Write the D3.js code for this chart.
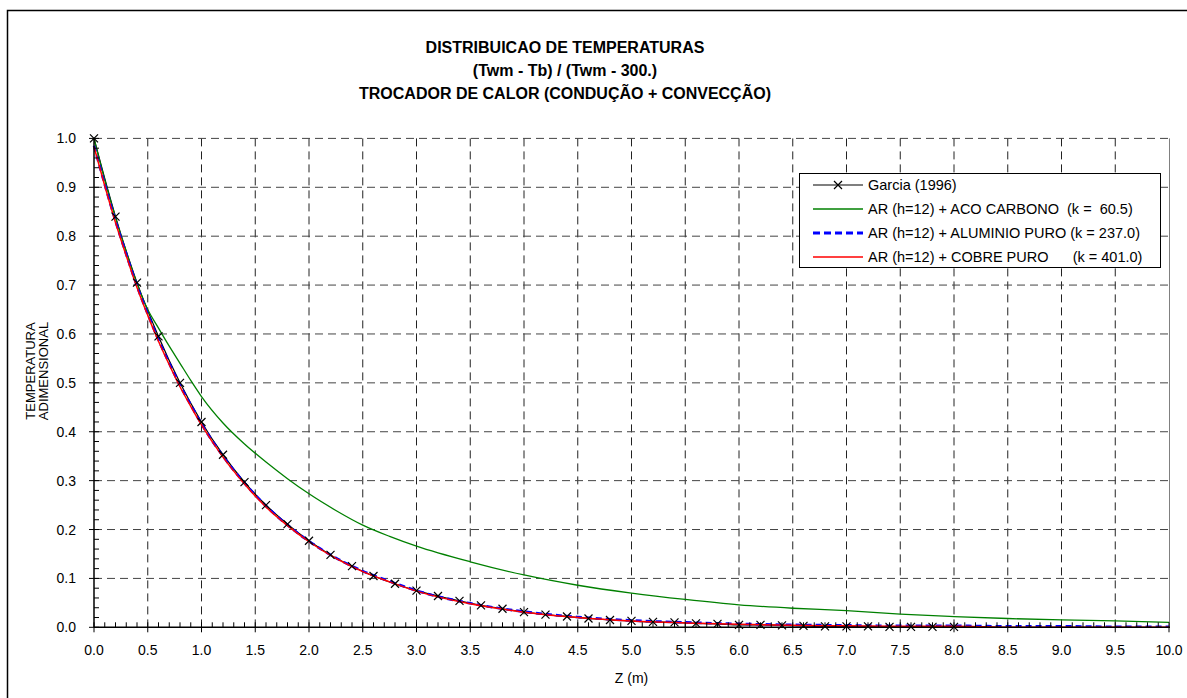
<!DOCTYPE html>
<html>
<head>
<meta charset="utf-8">
<script src="https://cdn.jsdelivr.net/npm/d3@7"></script>
<style>
  body { margin: 0; background: #fff; }
  text { font-family: "Liberation Sans", Arial, sans-serif; fill: #000; white-space: pre; }
</style>
</head>
<body>
<script>
// Garcia (1996) reference points (markers)
var garciaZ = [0.0,0.2,0.4,0.6,0.8,1.0,1.2,1.4,1.6,1.8,2.0,2.2,2.4,2.6,2.8,3.0,3.2,3.4,3.6,3.8,4.0,
               4.2,4.4,4.6,4.8,5.0,5.2,5.4,5.6,5.8,6.0,6.2,6.4,6.6,6.8,7.0,7.2,7.4,7.6,7.8,8.0];
var garciaT = [1.000,0.840,0.705,0.595,0.500,0.420,0.353,0.297,0.250,0.211,0.177,0.148,0.125,0.105,0.089,0.075,0.064,0.054,0.045,0.038,0.031,
               0.026,0.022,0.018,0.015,0.013,0.011,0.010,0.008,0.007,0.005,0.005,0.004,0.003,0.002,0.002,0.002,0.001,0.001,0.001,0.001];

// AR + ACO CARBONO (k = 60.5)
var acoZ = [0.0,0.1,0.2,0.3,0.4,0.5,0.6,0.7,0.8,0.9,1.0,1.2,1.4,1.6,1.8,2.0,2.25,2.5,2.75,3.0,3.5,4.0,4.5,5.0,5.5,6.0,6.5,7.0,7.5,8.0,8.5,9.0,9.5,10.0];
var acoT = [1.000,0.915,0.838,0.768,0.703,0.650,0.612,0.575,0.540,0.505,0.472,0.418,0.375,0.338,0.304,0.273,0.239,0.209,0.186,0.166,0.134,0.107,0.086,0.070,0.057,0.046,0.039,0.034,0.027,0.022,0.018,0.015,0.013,0.010];

// AR + ALUMINIO PURO (k = 237.0)
var aluZ = [0.0,0.1,0.2,0.3,0.4,0.5,0.6,0.7,0.8,0.9,1.0,1.2,1.4,1.6,1.8,2.0,2.25,2.5,2.75,3.0,3.5,4.0,4.5,5.0,5.5,6.0,6.5,7.0,7.5,8.0,8.5,9.0,9.5,10.0];
var aluT = [0.985,0.906,0.831,0.763,0.698,0.641,0.588,0.540,0.495,0.455,0.416,0.350,0.295,0.248,0.209,0.176,0.142,0.115,0.094,0.075,0.049,0.032,0.021,0.014,0.010,0.007,0.005,0.004,0.003,0.003,0.002,0.002,0.001,0.001];

// AR + COBRE PURO (k = 401.0)
var cobreZ = [0.0,0.1,0.2,0.3,0.4,0.5,0.6,0.7,0.8,0.9,1.0,1.2,1.4,1.6,1.8,2.0,2.25,2.5,2.75,3.0,3.5,4.0,4.5,5.0,5.5,6.0,6.5,7.0,7.5,8.0,8.3,8.5,9.0,9.5,10.0];
var cobreT = [0.983,0.903,0.828,0.760,0.695,0.638,0.585,0.537,0.492,0.452,0.414,0.348,0.293,0.246,0.208,0.175,0.141,0.114,0.093,0.074,0.048,0.031,0.020,0.013,0.009,0.006,0.004,0.003,0.002,0.002,0.001,0.000,0.000,0.000,0.000];

var xTicks = [0,0.5,1,1.5,2,2.5,3,3.5,4,4.5,5,5.5,6,6.5,7,7.5,8,8.5,9,9.5,10];
var yTicks = [0,0.1,0.2,0.3,0.4,0.5,0.6,0.7,0.8,0.9,1.0];

var titleLines = ["DISTRIBUICAO DE TEMPERATURAS", "(Twm - Tb) / (Twm - 300.)", "TROCADOR DE CALOR (CONDUÇÃO + CONVECÇÃO)"];
var legendLabels = ["Garcia (1996)", "AR (h=12) + ACO CARBONO  (k =  60.5)", "AR (h=12) + ALUMINIO PURO (k = 237.0)", "AR (h=12) + COBRE PURO      (k = 401.0)"];

var w = 1187, h = 698;
var svg = d3.select('body').append('svg').attr("width", w).attr("height", h);

// outer chart frame (right/bottom edges fall outside the picture)
svg.append("rect").attr("x", 7.5).attr("y", 10.5).attr("width", 1200).attr("height", 720)
	.attr("fill", "none").attr("stroke", "#000").attr("stroke-width", 1.5);

var x = d3.scaleLinear().domain([0, 10]).range([94, 1169]);
var y = d3.scaleLinear().domain([0, 1]).range([627.3, 138.4]);

// title
svg.append("g").selectAll("text").data(titleLines).enter().append("text")
	.attr("x", 565).attr("y", function(d, i) { return 53 + i * 23; })
	.attr("text-anchor", "middle").style("font-size", "16px").style("font-weight", "bold")
	.text(function(d) { return d; });

// grid
var grid = svg.append("g");
grid.selectAll("line.v").data(xTicks.filter(function(d) { return d > 0 && d < 10; })).enter().append("line")
	.attr("x1", function(d) { return x(d); }).attr("x2", function(d) { return x(d); })
	.attr("y1", y(1)).attr("y2", y(0))
	.attr("stroke", "#222").attr("stroke-width", 1).attr("stroke-dasharray", "8,5");
grid.selectAll("line.h").data(yTicks.filter(function(d) { return d > 0; })).enter().append("line")
	.attr("x1", x(0)).attr("x2", x(10))
	.attr("y1", function(d) { return y(d); }).attr("y2", function(d) { return y(d); })
	.attr("stroke", "#444").attr("stroke-width", 1).attr("stroke-dasharray", "8,5");

// right border of plot area
svg.append("line").attr("x1", x(10) + 0.5).attr("x2", x(10) + 0.5).attr("y1", y(1)).attr("y2", y(0))
	.attr("stroke", "#808080").attr("stroke-width", 1);

// series
var line = d3.line()
	.x(function(d) { return x(d[0]); })
	.y(function(d) { return y(d[1]); })
	.curve(d3.curveMonotoneX);

function pairs(zs, ts) { return zs.map(function(z, i) { return [z, ts[i]]; }); }

var plot = svg.append("g");
plot.append("path").attr("d", line(pairs(garciaZ, garciaT)))
	.attr("fill", "none").attr("stroke", "#000").attr("stroke-width", 1.2);
plot.append("path").attr("d", line(pairs(acoZ, acoT)))
	.attr("fill", "none").attr("stroke", "#008000").attr("stroke-width", 1.3);
plot.append("path").attr("d", line(pairs(aluZ, aluT)))
	.attr("fill", "none").attr("stroke", "#0000ff").attr("stroke-width", 2.6).attr("stroke-dasharray", "6,4");
plot.append("path").attr("d", line(pairs(cobreZ, cobreT)))
	.attr("fill", "none").attr("stroke", "#ff0000").attr("stroke-width", 1.5);

function cross(g, cx, cy, r) {
	g.append("path").attr("d", "M" + (cx - r) + "," + (cy - r) + "L" + (cx + r) + "," + (cy + r) +
		"M" + (cx - r) + "," + (cy + r) + "L" + (cx + r) + "," + (cy - r))
		.attr("stroke", "#000").attr("stroke-width", 1.2).attr("fill", "none");
}
pairs(garciaZ, garciaT).forEach(function(p) { cross(plot, x(p[0]), y(p[1]), 4); });

// axes
var xAxis = svg.append("g");
xAxis.append("line").attr("x1", x(0)).attr("x2", x(10) + 1).attr("y1", y(0)).attr("y2", y(0))
	.attr("stroke", "#000").attr("stroke-width", 1.5);
d3.range(0, 101).forEach(function(i) {
	var v = i / 10;
	var major = (i % 5 === 0);
	xAxis.append("line").attr("x1", x(v)).attr("x2", x(v))
		.attr("y1", y(0) - 5).attr("y2", y(0) + (major ? 5 : 0))
		.attr("stroke", "#000").attr("stroke-width", 1);
});
xAxis.selectAll("text").data(xTicks).enter().append("text")
	.attr("x", function(d) { return x(d); }).attr("y", 655)
	.attr("text-anchor", "middle").style("font-size", "14px")
	.text(function(d) { return d3.format(".1f")(d); });
svg.append("text").attr("x", (x(0) + x(10)) / 2).attr("y", 683).attr("text-anchor", "middle")
	.style("font-size", "14px").text("Z (m)");

var yAxis = svg.append("g");
yAxis.append("line").attr("x1", x(0)).attr("x2", x(0)).attr("y1", y(1)).attr("y2", y(0))
	.attr("stroke", "#000").attr("stroke-width", 1.5);
d3.range(0, 51).forEach(function(i) {
	var v = i / 50;
	var major = (i % 5 === 0);
	yAxis.append("line").attr("x1", x(0) - (major ? 5 : 0)).attr("x2", x(0) + 5)
		.attr("y1", y(v)).attr("y2", y(v))
		.attr("stroke", "#000").attr("stroke-width", 1);
});
yAxis.selectAll("text").data(yTicks).enter().append("text")
	.attr("x", 76).attr("y", function(d) { return y(d) + 5; })
	.attr("text-anchor", "end").style("font-size", "14px")
	.text(function(d) { return d3.format(".1f")(d); });

var yTitle = svg.append("g").attr("transform", "translate(36,371) rotate(-90)");
yTitle.append("text").attr("x", 0).attr("y", -1).attr("text-anchor", "middle").style("font-size", "13px").text("TEMPERATURA");
yTitle.append("text").attr("x", 0).attr("y", 12).attr("text-anchor", "middle").style("font-size", "13px").text("ADIMENSIONAL");

// legend
var legend = svg.append("g");
legend.append("rect").attr("x", 799.5).attr("y", 173.5).attr("width", 361).attr("height", 94)
	.attr("fill", "#fff").attr("stroke", "#000").attr("stroke-width", 1);
var legendStyles = [
	{ stroke: "#000", width: 1.2, dash: null },
	{ stroke: "#008000", width: 1.3, dash: null },
	{ stroke: "#0000ff", width: 3, dash: "7,4" },
	{ stroke: "#ff0000", width: 1.5, dash: null }
];
legendLabels.forEach(function(label, i) {
	var ly = 185 + i * 24;
	legend.append("line").attr("x1", 813).attr("x2", 863).attr("y1", ly).attr("y2", ly)
		.attr("stroke", legendStyles[i].stroke).attr("stroke-width", legendStyles[i].width)
		.attr("stroke-dasharray", legendStyles[i].dash);
	if (i === 0) cross(legend, 838, ly, 4);
	legend.append("text").attr("x", 868).attr("y", ly + 5).style("font-size", "14.5px").text(label);
});
</script>
</body>
</html>
